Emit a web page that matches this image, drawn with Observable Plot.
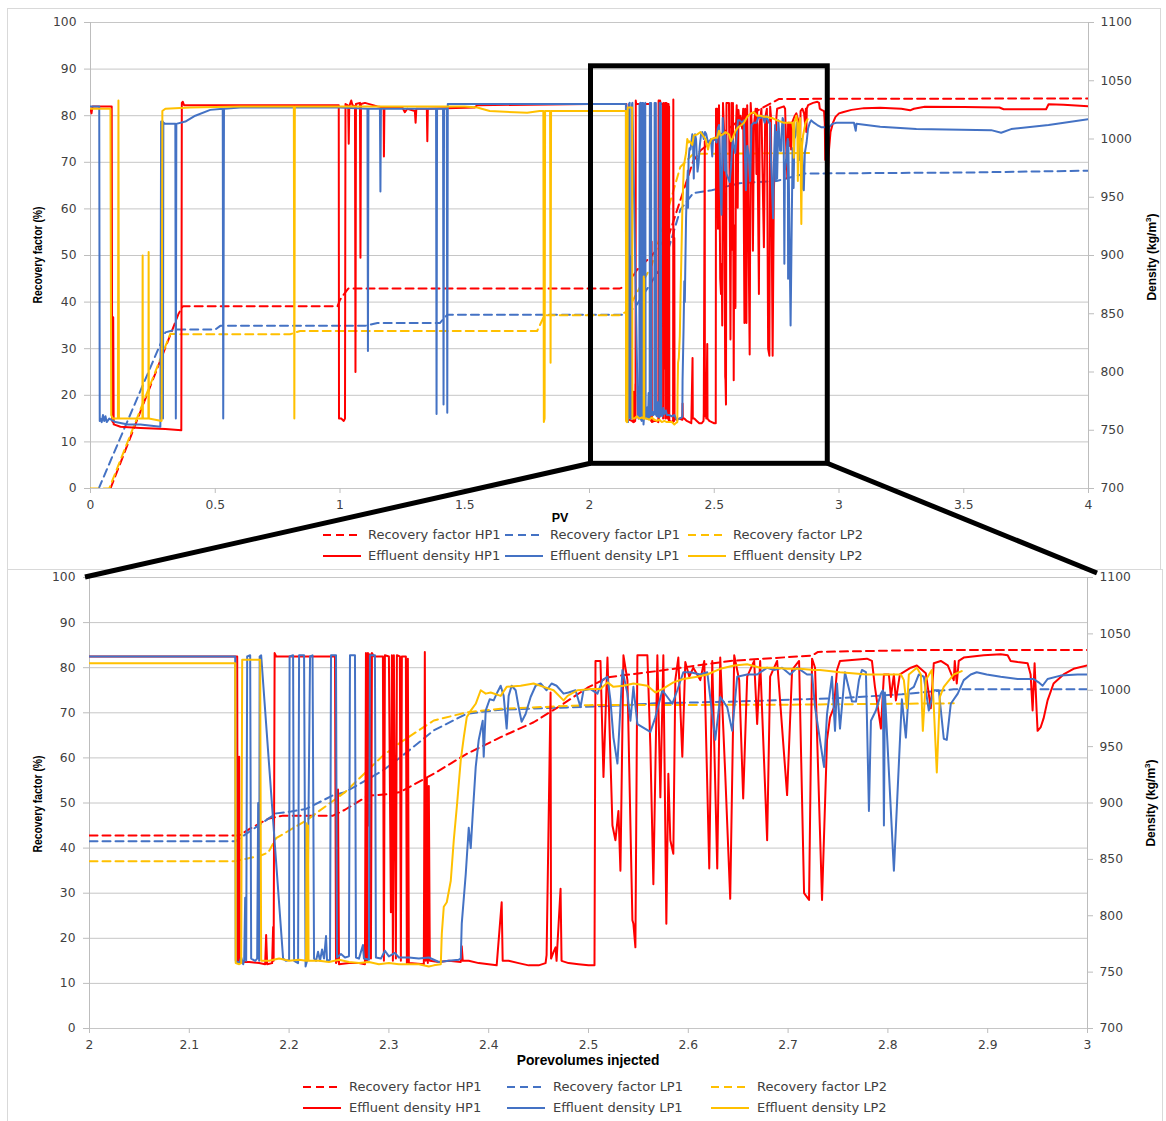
<!DOCTYPE html>
<html><head><meta charset="utf-8">
<script src="https://cdn.jsdelivr.net/npm/d3@7"></script>
<script src="https://cdn.jsdelivr.net/npm/@observablehq/plot@0.6"></script>
<style>
body{margin:0;background:#fff;}
#wrap{position:relative;width:1166px;height:1121px;overflow:hidden;font-family:"DejaVu Sans",sans-serif;color:#404040;}
.frame{position:absolute;border:1px solid #d9d9d9;box-sizing:border-box;}
.chart{position:absolute;left:0;}
.legend{position:absolute;display:grid;font-size:13px;color:#404040;}
.item{display:flex;align-items:center;height:21px;white-space:nowrap;}
.title{position:absolute;white-space:nowrap;font-family:"Liberation Sans",Arial,sans-serif;font-weight:bold;font-size:12px;color:#000;transform:translate(-50%,-50%);line-height:1;}
.xt{font-size:13.8px;}
.pv{font-size:12.5px;}
.rot{transform:translate(-50%,-50%) rotate(-90deg);}
.rotn{transform:translate(-50%,-50%) rotate(-90deg) scaleX(0.86);}
</style></head>
<body><div id="wrap"></div>
<script>
// ---------------- DATA ----------------
const seriesNames = ["Recovery factor HP1","Recovery factor LP1","Recovery factor LP2","Effluent density HP1","Effluent density LP1","Effluent density LP2"];
const seriesColors = ["#ff0000","#4472c4","#ffc000","#ff0000","#4472c4","#ffc000"];
const leftTicks = [0,10,20,30,40,50,60,70,80,90,100];
const rightTicks = [700,750,800,850,900,950,1000,1050,1100];
const topXTicks = [0,0.5,1,1.5,2,2.5,3,3.5,4];
const zoomXTicks = [2,2.1,2.2,2.3,2.4,2.5,2.6,2.7,2.8,2.9,3];
const zoomBox = [{x1:2.006, x2:2.955, y1:5.3, y2:90.6}];

// Recovery factor (%) – overview panel
const topRecoveryHP1 = [[0.08,0],[0.353,37.5],[0.37,39.1],[0.99,39.1],[1.0,40.5],[1.02,42],[1.033,42.9],[2.12,42.9],[2.15,43.5],[2.19,46.9],[2.25,50],[2.32,54.7],[2.416,70.3],[2.446,72.6],[2.6,79],[2.76,83.6],[4.0,83.7]];
const topRecoveryLP1 = [[0.033,0],[0.3,33.5],[0.34,34.1],[0.5,34.1],[0.52,34.9],[1.1,34.9],[1.15,35.5],[1.4,35.5],[1.43,37.3],[2.15,37.3],[2.19,39.5],[2.3,48.5],[2.364,59.8],[2.416,63.4],[2.49,64],[2.6,65.5],[2.75,66],[2.865,67.6],[3.5,67.8],[4.0,68.2]];
const topRecoveryLP2 = [[0,0],[0.075,0],[0.32,33.2],[0.37,33.1],[0.8,33.1],[0.84,33.8],[1.79,33.8],[1.82,37.2],[2.12,37.2],[2.15,38],[2.25,48],[2.364,69],[2.416,71.8],[2.88,72]];

// Effluent density (kg/m3) – overview panel, 0–2 PV
const topDensityHP1 = [[0,1026],[0.004,1022],[0.008,1028],[0.085,1028],[0.087,758],[0.09,757],[0.091,847],[0.093,755],[0.12,753],[0.2,752],[0.3,751],[0.364,750],[0.366,1031],[0.37,1032],[0.375,1029],[0.7,1029],[0.995,1029],[0.996,760],[1.005,760],[1.015,758],[1.02,760],[1.022,1030],[1.03,1029],[1.033,1026],[1.035,996],[1.037,1028],[1.045,1033],[1.05,1029],[1.06,1028],[1.062,800],[1.064,1030],[1.08,1031],[1.082,898],[1.084,1030],[1.1,1031],[1.15,1028],[1.175,1027],[1.176,985],[1.178,1027],[1.25,1027],[1.26,1023],[1.27,1026],[1.3,1024],[1.303,1014],[1.306,1026],[1.348,1026],[1.35,998],[1.352,1026],[1.54,1027],[1.55,1029],[2.0,1030]];
const topDensityLP1 = [[0,1028],[0.035,1028],[0.037,758],[0.04,760],[0.045,757],[0.05,763],[0.055,758],[0.06,762],[0.065,757],[0.075,760],[0.1,757],[0.15,755],[0.2,755],[0.28,753],[0.283,1015],[0.29,1015],[0.2905,760],[0.292,1014],[0.3,1013],[0.34,1013],[0.342,760],[0.344,1013],[0.38,1015],[0.42,1020],[0.48,1025],[0.53,1026],[0.532,760],[0.535,1026],[0.6,1027],[1.0,1027],[1.11,1026],[1.112,818],[1.114,1026],[1.16,1026],[1.162,955],[1.164,1026],[1.385,1026],[1.387,764],[1.389,1026],[1.413,1026],[1.415,772],[1.417,1026],[1.428,1026],[1.43,765],[1.432,1030],[2.0,1030]];
const topDensityLP2 = [[0,1026],[0.08,1026],[0.083,763],[0.09,760],[0.11,760],[0.112,1033],[0.114,760],[0.15,760],[0.2,760],[0.208,760],[0.209,900],[0.21,760],[0.232,760],[0.233,903],[0.234,760],[0.285,758],[0.288,1024],[0.3,1026],[0.4,1027],[0.6,1028],[0.815,1028],[0.817,760],[0.819,1028],[1.5,1028],[1.55,1027],[1.6,1024],[1.7,1023],[1.75,1022.5],[1.8,1024],[1.815,1024],[1.817,757],[1.82,760],[1.822,1024],[1.842,1024],[1.844,808],[1.846,1024],[2.0,1024]];

// Effluent density – overview panel, 3–4 PV
const tailDensityHP1 = [[3.0,1022],[3.015,1023],[3.05,1025],[3.1,1026.5],[3.165,1026.8],[3.25,1026],[3.285,1024.6],[3.3,1026],[3.344,1027.7],[3.5,1027.5],[3.643,1027],[3.66,1025.5],[3.83,1025.5],[3.84,1029.8],[3.9,1029.5],[4.0,1028]];
const tailDensityLP1 = [[3.0,1014],[3.06,1014],[3.067,1007],[3.07,1013],[3.165,1010.6],[3.31,1008.5],[3.61,1007.6],[3.65,1005.4],[3.69,1008.5],[3.84,1012],[4.0,1017]];

// Recovery factor (%) – zoom panel
const zoomRecoveryHP1 = [[2.0,42.8],[2.15,42.8],[2.16,44.2],[2.179,46.5],[2.194,47.2],[2.244,47.2],[2.256,48.5],[2.279,51.6],[2.3,52],[2.311,52.4],[2.345,56.5],[2.378,60.9],[2.412,64.6],[2.445,67.9],[2.472,71.6],[2.5,75.7],[2.52,77.9],[2.567,79.2],[2.642,81.5],[2.724,82.7],[2.73,83.5],[2.83,83.9],[3.0,83.9]];
const zoomRecoveryLP1 = [[2.0,41.5],[2.146,41.5],[2.156,43],[2.187,47.7],[2.202,48.1],[2.217,48.7],[2.244,51.7],[2.256,52.4],[2.294,57.2],[2.312,60.2],[2.345,66.1],[2.378,69.8],[2.412,70.7],[2.479,71.2],[2.529,71.6],[2.567,72.1],[2.649,72.5],[2.754,73.3],[2.814,74.1],[2.866,75.2],[3.0,75.2]];
const zoomRecoveryLP2 = [[2.0,37.1],[2.146,37.1],[2.171,38.3],[2.179,39],[2.187,42.2],[2.217,46.1],[2.256,52.4],[2.294,60.5],[2.312,63.5],[2.345,68.3],[2.378,70.1],[2.412,70.9],[2.5,71.7],[2.7,71.8],[2.866,72.1]];

// Effluent density (kg/m3) – zoom panel, 2–3 PV
const zoomDensityHP1 = [[2.0,1030],[2.148,1030],[2.1485,760],[2.1495,760],[2.15,941],[2.1505,759],[2.16,759],[2.17,758],[2.176,757],[2.177,783],[2.178,757],[2.183,758],[2.184,790],[2.1845,760],[2.1855,1033],[2.187,1030],[2.246,1030],[2.247,758],[2.248,760],[2.249,912],[2.25,757],[2.26,758],[2.27,758],[2.276,757],[2.277,1033],[2.278,760],[2.279,1033],[2.28,880],[2.281,1032],[2.282,762],[2.283,1033],[2.285,1030],[2.294,1030],[2.295,760],[2.296,1031],[2.3,1030],[2.302,803],[2.303,1031],[2.304,760],[2.305,1031],[2.307,762],[2.308,1031],[2.311,1030],[2.312,760],[2.313,1030],[2.317,1030],[2.318,758],[2.319,1028],[2.32,758],[2.335,757],[2.336,1034],[2.337,760],[2.338,922],[2.339,758],[2.34,915],[2.341,760],[2.35,759],[2.36,760],[2.372,759],[2.373,773],[2.374,760],[2.38,760],[2.39,758],[2.4,757],[2.408,756],[2.413,812],[2.414,760],[2.42,760],[2.43,758],[2.44,756],[2.45,756],[2.457,758],[2.458,765],[2.462,998],[2.4625,762],[2.465,768],[2.467,772],[2.468,760],[2.472,824],[2.473,760],[2.48,758],[2.49,757],[2.5,756],[2.506,756],[2.507,1026],[2.512,1026],[2.515,923],[2.519,1029],[2.524,880],[2.527,867],[2.53,893],[2.532,840],[2.535,1031],[2.539,1009],[2.544,796],[2.545,793],[2.547,772],[2.549,1031],[2.559,1031],[2.562,950],[2.565,828],[2.569,1031],[2.572,905],[2.575,1031],[2.578,793],[2.58,926],[2.582,867],[2.585,855],[2.587,1009],[2.59,1029],[2.594,941],[2.597,1025],[2.601,1012],[2.605,1020],[2.612,1009],[2.616,1026],[2.621,842],[2.624,1026],[2.629,842],[2.632,1029],[2.637,926],[2.642,815],[2.646,1031],[2.651,1009],[2.655,904],[2.659,1012],[2.666,1026],[2.669,970],[2.672,1026],[2.679,867],[2.682,1012],[2.689,1026],[2.699,907],[2.704,1018],[2.711,1026],[2.716,820],[2.721,814],[2.724,1028],[2.727,1020],[2.734,814],[2.739,956],[2.742,976],[2.746,985],[2.749,1018],[2.752,1026],[2.779,1028],[2.784,1026],[2.787,1003],[2.793,966],[2.796,1014],[2.801,1014],[2.803,994],[2.806,1014],[2.808,991],[2.812,1014],[2.823,1020],[2.829,1022],[2.838,1015],[2.843,984],[2.846,1024],[2.853,1026],[2.86,1022],[2.866,1009],[2.867,1026],[2.869,1006],[2.871,1026],[2.876,1029],[2.896,1031],[2.913,1032],[2.92,1031],[2.923,1026],[2.93,1025],[2.94,1024],[2.943,1014],[2.945,982],[2.947,1024],[2.949,982],[2.95,964],[2.953,967],[2.956,975],[2.96,991],[2.966,1006],[2.976,1014],[2.986,1019],[3.0,1022]];
const zoomDensityLP1 = [[2.0,1030],[2.146,1030],[2.1465,760],[2.15,758],[2.152,763],[2.154,757],[2.155,761],[2.156,816],[2.157,760],[2.158,1030],[2.161,1031],[2.162,762],[2.166,760],[2.168,762],[2.169,900],[2.17,760],[2.1705,1030],[2.172,1031],[2.194,762],[2.197,760],[2.2,761],[2.2005,1030],[2.204,1031],[2.205,760],[2.209,758],[2.21,1031],[2.215,1031],[2.2165,755],[2.218,760],[2.221,1030],[2.2235,1031],[2.225,762],[2.227,760],[2.229,768],[2.231,760],[2.233,770],[2.235,762],[2.237,782],[2.238,760],[2.241,761],[2.242,1031],[2.247,1031],[2.248,763],[2.252,766],[2.256,763],[2.26,764],[2.261,1031],[2.266,1031],[2.267,763],[2.27,762],[2.274,774],[2.275,762],[2.28,761],[2.281,1031],[2.286,1031],[2.287,763],[2.292,762],[2.296,769],[2.3,764],[2.306,767],[2.31,763],[2.32,763],[2.33,762],[2.34,763],[2.35,759],[2.36,760],[2.37,761],[2.372,762],[2.373,793],[2.377,837],[2.38,878],[2.382,860],[2.384,890],[2.387,932],[2.39,956],[2.394,973],[2.395,941],[2.397,982],[2.401,992],[2.405,991],[2.408,997],[2.412,1004],[2.415,995],[2.418,966],[2.42,995],[2.423,1004],[2.427,1000],[2.43,985],[2.433,972],[2.437,979],[2.442,994],[2.447,1004],[2.452,1006],[2.458,1000],[2.463,1006],[2.468,1004],[2.475,997],[2.48,998],[2.487,1000],[2.492,985],[2.495,1000],[2.502,1001],[2.509,997],[2.514,1009],[2.519,1012],[2.522,991],[2.525,958],[2.529,935],[2.534,1018],[2.539,997],[2.542,973],[2.545,1003],[2.549,970],[2.562,963],[2.567,976],[2.574,1000],[2.579,994],[2.584,988],[2.589,1000],[2.595,1016],[2.602,1016],[2.612,1014],[2.619,1016],[2.627,956],[2.632,994],[2.639,985],[2.644,964],[2.649,1012],[2.659,1014],[2.669,1014],[2.679,1020],[2.686,1018],[2.694,1020],[2.702,1014],[2.709,1020],[2.719,1014],[2.724,1014],[2.727,985],[2.736,932],[2.739,979],[2.744,1012],[2.747,964],[2.749,1006],[2.752,966],[2.757,1016],[2.764,990],[2.768,990],[2.771,1009],[2.774,1018],[2.778,1016],[2.781,893],[2.783,973],[2.788,982],[2.793,997],[2.795,1000],[2.796,880],[2.797,998],[2.806,840],[2.814,992],[2.818,958],[2.821,1000],[2.826,1003],[2.831,1014],[2.836,1012],[2.841,982],[2.846,1000],[2.851,1000],[2.856,957],[2.859,956],[2.863,988],[2.87,997],[2.876,1009],[2.883,1014],[2.889,1016],[2.899,1014],[2.913,1012],[2.93,1010],[2.946,1010],[2.951,1007],[2.955,1004],[2.96,1010],[2.973,1013],[2.99,1014],[3.0,1014]];
const zoomDensityLP2 = [[2.0,1024],[2.146,1024],[2.1465,758],[2.15,757],[2.152,758],[2.153,1027],[2.171,1027],[2.172,760],[2.18,760],[2.19,762],[2.2,760],[2.21,761],[2.217,760],[2.2175,882],[2.2185,760],[2.219,880],[2.2195,760],[2.23,760],[2.24,759],[2.25,761],[2.26,759],[2.27,758],[2.28,759],[2.29,757],[2.3,758],[2.31,757],[2.32,757],[2.33,757],[2.34,755],[2.345,756],[2.352,757],[2.353,784],[2.355,808],[2.358,812],[2.362,831],[2.365,867],[2.368,896],[2.372,938],[2.375,958],[2.378,976],[2.382,982],[2.387,988],[2.392,1000],[2.397,997],[2.402,998],[2.412,995],[2.418,1003],[2.432,1004],[2.445,1006],[2.455,1003],[2.465,1000],[2.475,991],[2.479,995],[2.489,1000],[2.502,1001],[2.512,1001],[2.519,1007],[2.525,1003],[2.535,1004],[2.545,1006],[2.559,1004],[2.567,998],[2.574,1001],[2.585,1007],[2.595,1010],[2.609,1012],[2.619,1014],[2.632,1019],[2.646,1022],[2.659,1023],[2.672,1020],[2.686,1020],[2.699,1019],[2.712,1019],[2.726,1018],[2.732,1018],[2.752,1016],[2.779,1014],[2.799,1014],[2.813,1014],[2.816,1009],[2.819,984],[2.821,1014],[2.829,1020],[2.833,1014],[2.835,964],[2.838,1009],[2.844,1018],[2.846,985],[2.849,927],[2.852,994],[2.856,1003],[2.866,1014],[2.874,1017]];

// ---------------- DRAW ----------------
const wrap = document.getElementById("wrap");
const toRF = d => (d - 700) / 4;
const fmt = v => String(+(+v).toFixed(1));

function lineMark(data, color, dashed, density) {
  const o = {x: d => d[0], y: d => density ? toRF(d[1]) : d[1], stroke: color, strokeWidth: 2, clip: true};
  if (dashed) { o.strokeDasharray = "8,5"; }
  return Plot.line(data, o);
}

function makeChart(cfg) {
  const marks = [
    Plot.gridY(leftTicks, {stroke: "#c6c6c6", strokeOpacity: 1, strokeWidth: 1}),
    Plot.ruleX([cfg.domain[0], cfg.domain[1]], {stroke: "#bdbdbd"}),
    Plot.axisY(leftTicks, {anchor: "left", tickSize: 6, tickPadding: 8, stroke: "#bdbdbd", fill: "#404040", label: null, tickFormat: d => String(d)}),
    Plot.axisY(rightTicks.map(toRF), {anchor: "right", tickSize: 5, tickPadding: 7, stroke: "#bdbdbd", fill: "#404040", label: null, tickFormat: v => String(Math.round(700 + 4 * v))}),
    Plot.axisX(cfg.xticks, {anchor: "bottom", tickSize: 5, tickPadding: 7, stroke: "#bdbdbd", fill: "#404040", label: null, tickFormat: fmt}),
    lineMark(cfg.rf[0], seriesColors[0], true, false),
    lineMark(cfg.rf[1], seriesColors[1], true, false),
    lineMark(cfg.rf[2], seriesColors[2], true, false),
    lineMark(cfg.dens[0], seriesColors[3], false, true),
    lineMark(cfg.dens[1], seriesColors[4], false, true),
    lineMark(cfg.dens[2], seriesColors[5], false, true)
  ];
  if (cfg.box) marks.push(Plot.rect(cfg.box, {x1: "x1", x2: "x2", y1: "y1", y2: "y2", fill: "none", stroke: "#000", strokeWidth: 5}));
  return Plot.plot({
    width: 1166, height: cfg.height,
    marginLeft: 90 - cfg.shiftL, marginRight: 78 + cfg.shiftL, marginTop: cfg.mt, marginBottom: 42,
    x: {domain: cfg.domain},
    y: {domain: [0, 100]},
    style: {fontFamily: "'DejaVu Sans', sans-serif", fontSize: "12.3px", background: "transparent", overflow: "visible"},
    marks
  });
}

function addDiv(cls, css, text) {
  const d = document.createElement("div");
  d.className = cls; Object.assign(d.style, css);
  if (text !== undefined) d.innerHTML = text;
  wrap.appendChild(d); return d;
}
addDiv("frame", {left: "7px", top: "8px", width: "1154px", height: "562px"});
addDiv("frame", {left: "7px", top: "569px", width: "1156px", height: "560px"});

const topChart = makeChart({height: 530, mt: 22, shiftL: 0, domain: [0, 4], xticks: topXTicks,
  rf: [topRecoveryHP1, topRecoveryLP1, topRecoveryLP2],
  dens: [topDensityHP1.concat(zoomDensityHP1, tailDensityHP1), topDensityLP1.concat(zoomDensityLP1, tailDensityLP1), topDensityLP2.concat(zoomDensityLP2)],
  box: zoomBox});
topChart.classList.add("chart"); topChart.style.top = "0px";
wrap.appendChild(topChart);

const botTop = 565;
const botChart = makeChart({height: 505, mt: 12, shiftL: 1, domain: [2, 3], xticks: zoomXTicks,
  rf: [zoomRecoveryHP1, zoomRecoveryLP1, zoomRecoveryLP2],
  dens: [zoomDensityHP1, zoomDensityLP1, zoomDensityLP2]});
botChart.classList.add("chart"); botChart.style.top = botTop + "px";
wrap.appendChild(botChart);

// axis titles
addDiv("title rotn", {left: "38px", top: "255px"}, "Recovery factor (%)");
addDiv("title rot", {left: "1151px", top: "257px"}, "Density (kg/m<sup style='font-size:8px'>3</sup>)");
addDiv("title pv", {left: "560px", top: "518px"}, "PV");
addDiv("title rotn", {left: "38px", top: "804px"}, "Recovery factor (%)");
addDiv("title rot", {left: "1150px", top: "803px"}, "Density (kg/m<sup style='font-size:8px'>3</sup>)");
addDiv("title xt", {left: "588px", top: "1061px"}, "Porevolumes injected");

// legends
function legend(left, top, cols, gap) {
  const lg = addDiv("legend", {left: left + "px", top: top + "px", gridTemplateColumns: cols});
  seriesNames.forEach((name, i) => {
    const it = document.createElement("div"); it.className = "item";
    const dash = i < 3 ? "stroke-dasharray='8,5'" : "";
    it.innerHTML = `<svg width="38" height="10" style="margin-right:${gap}px;flex:none"><line x1="0" x2="38" y1="5" y2="5" stroke="${seriesColors[i]}" stroke-width="2" ${dash}/></svg><span>${name}</span>`;
    lg.appendChild(it);
  });
}
legend(323, 524, "182px 183px auto", 7);
legend(303, 1076, "204px 204px auto", 8);

// zoom connectors (computed from the two charts' scales)
const tx = topChart.scale("x"), ty = topChart.scale("y");
const bx = botChart.scale("x"), by = botChart.scale("y");
const b = zoomBox[0];
const segs = [
  [tx.apply(b.x1), ty.apply(b.y1), bx.apply(2) - 4, botTop + by.apply(100)],
  [tx.apply(b.x2), ty.apply(b.y1), bx.apply(3) + 10, botTop + by.apply(100) - 4]
];
const ov = d3.create("svg").attr("width", 1166).attr("height", 1121)
  .style("position", "absolute").style("left", 0).style("top", 0).style("pointer-events", "none");
ov.selectAll("line").data(segs).join("line")
  .attr("x1", d => d[0]).attr("y1", d => d[1]).attr("x2", d => d[2]).attr("y2", d => d[3])
  .attr("stroke", "#000").attr("stroke-width", 5);
wrap.appendChild(ov.node());
</script></body></html>
